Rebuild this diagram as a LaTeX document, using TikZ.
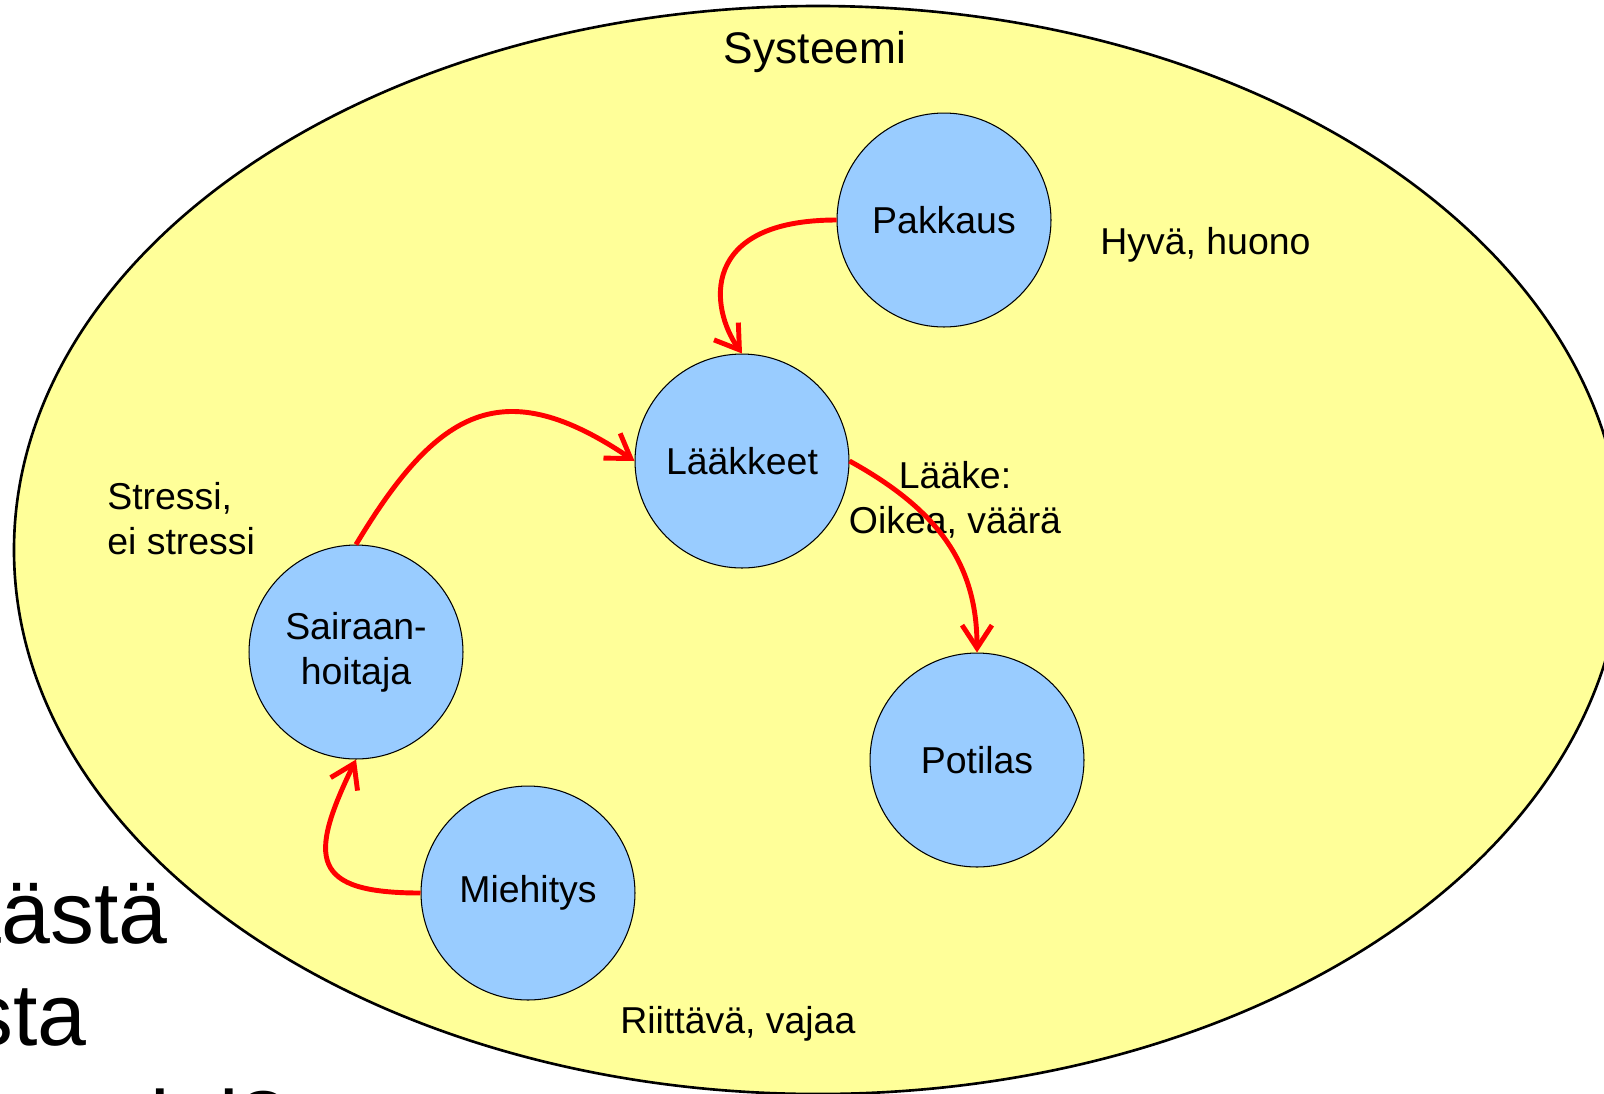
\documentclass[tikz,border=0pt]{standalone}
\usepackage{fontspec}
\setmainfont{Liberation Sans}
\usetikzlibrary{arrows.meta}
\definecolor{sysyellow}{RGB}{255,255,153}
\definecolor{nodeblue}{RGB}{153,204,255}
\begin{document}
\begin{tikzpicture}[x=0.02cm,y=0.02cm,
  actor/.style={circle, draw=black, line width=0.6pt, fill=nodeblue,
    minimum size=4.28cm, inner sep=0pt, align=center,
    font=\fontsize{21.3}{25.5}\selectfont},
  lbl/.style={inner sep=0pt, align=left, font=\fontsize{21.3}{25.5}\selectfont},
  big/.style={inner sep=0pt, anchor=base west, font=\fontsize{50}{56}\selectfont},
  link/.style={draw=red, line width=2.8pt,
    -{Straight Barb[length=13pt,width=17pt]}}]
\useasboundingbox (0,0) rectangle (1604,-1093);
\clip (0,0) rectangle (1604,-1093);

% slide text behind the system ellipse
\node[big] (q1) at (-23,-943) {tästä};
\node[big] (q2) at (-31,-1045) {sta};
\node[big] (q3) at (-40,-1152) {aspekti?};

% the system
\draw[fill=sysyellow, line width=1.5pt] (818,-550) ellipse [x radius=804, y radius=544];
\node[lbl, anchor=base, font=\fontsize{25.2}{30}\selectfont] (sys) at (815,-63) {Systeemi};

% actors
\node[actor] (pak) at (944,-220) {Pakkaus};
\node[actor] (lak) at (742,-461) {Lääkkeet};
\node[actor] (sai) at (356,-652) {Sairaan-\\hoitaja};
\node[actor] (mie) at (528,-893) {Miehitys};
\node[actor] (pot) at (977,-760) {Potilas};

% states
\node[lbl, anchor=base west] (hyv) at (1100,-254) {Hyvä, huono};
\node[lbl, anchor=west] (str) at (107,-519) {Stressi,\\ei stressi};
\node[lbl, align=center] (laa) at (955,-500) {Lääke:\\Oikea, väärä};
\node[lbl, anchor=base west] (rii) at (620,-1033) {Riittävä, vajaa};

% influences
\draw[link] (pak.west) .. controls +(-138,0) and +(-32,45) .. (lak.north);
\draw[link] (sai.north) to[out=59,in=146,looseness=1.4] (lak.west);
\draw[link] (mie.west) .. controls +(-110,0) and +(-48,-99) .. (sai.south);
\draw[link] (lak.east) .. controls +(87,-48) and +(0,90) .. (pot.north);
\end{tikzpicture}
\end{document}
